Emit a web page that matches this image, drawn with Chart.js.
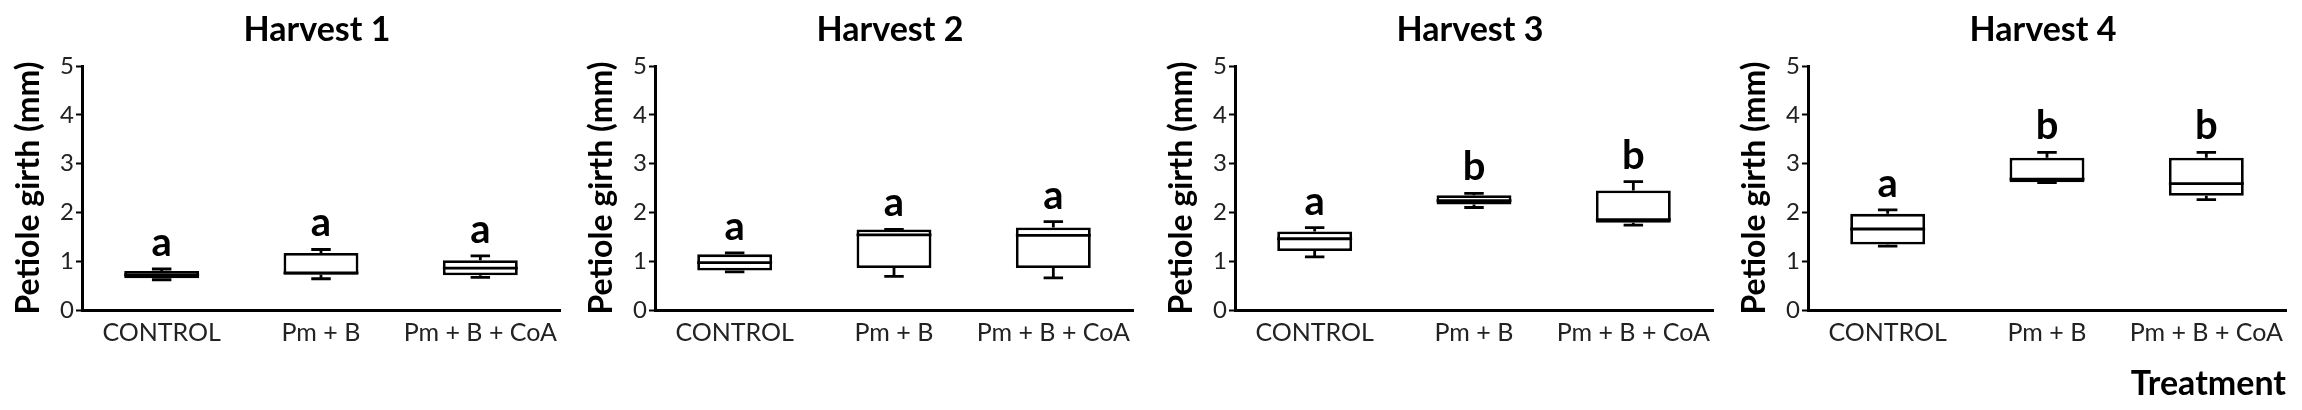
<!DOCTYPE html>
<html><head><meta charset="utf-8">
<script src="https://cdn.jsdelivr.net/npm/chart.js@4.4.1/dist/chart.umd.min.js"></script>
<style>
html,body{margin:0;padding:0;background:#fff;width:2302px;height:410px;overflow:hidden}
.p{position:absolute;top:0;width:575px;height:410px}
canvas{display:block}
</style></head><body>
<div class="p" style="left:0px"><canvas id="c0" width="575" height="410"></canvas></div>
<div class="p" style="left:573px"><canvas id="c1" width="575" height="410"></canvas></div>
<div class="p" style="left:1153px"><canvas id="c2" width="575" height="410"></canvas></div>
<div class="p" style="left:1726px"><canvas id="c3" width="575" height="410"></canvas></div>
<script>
const categories = ['CONTROL', 'Pm + B', 'Pm + B + CoA'];
const harvestTitles = ['Harvest 1', 'Harvest 2', 'Harvest 3', 'Harvest 4'];
const yTicks = [0, 1, 2, 3, 4, 5];
const yAxisTitle = 'Petiole girth (mm)';
const xAxisTitle = 'Treatment';

const h1Min = [0.62, 0.64, 0.67];
const h1Q1 = [0.65, 0.72, 0.71];
const h1Median = [0.72, 0.76, 0.86];
const h1Q3 = [0.80, 1.17, 1.02];
const h1Max = [0.84, 1.24, 1.11];
const h1Letters = ['a', 'a', 'a'];

const h2Min = [0.78, 0.69, 0.66];
const h2Q1 = [0.81, 0.86, 0.86];
const h2Median = [0.97, 1.54, 1.53];
const h2Q3 = [1.14, 1.65, 1.69];
const h2Max = [1.17, 1.65, 1.81];
const h2Letters = ['a', 'a', 'a'];

const h3Min = [1.09, 2.10, 1.74];
const h3Q1 = [1.21, 2.16, 1.79];
const h3Median = [1.46, 2.24, 1.85];
const h3Q3 = [1.61, 2.35, 2.45];
const h3Max = [1.69, 2.39, 2.63];
const h3Letters = ['a', 'b', 'b'];

const h4Min = [1.31, 2.61, 2.26];
const h4Q1 = [1.34, 2.62, 2.34];
const h4Median = [1.66, 2.68, 2.59];
const h4Q3 = [1.97, 3.12, 3.12];
const h4Max = [2.05, 3.23, 3.23];
const h4Letters = ['a', 'b', 'b'];

const harvests = [
  {min: h1Min, q1: h1Q1, median: h1Median, q3: h1Q3, max: h1Max, letters: h1Letters},
  {min: h2Min, q1: h2Q1, median: h2Median, q3: h2Q3, max: h2Max, letters: h2Letters},
  {min: h3Min, q1: h3Q1, median: h3Median, q3: h3Q3, max: h3Max, letters: h3Letters},
  {min: h4Min, q1: h4Q1, median: h4Median, q3: h4Q3, max: h4Max, letters: h4Letters}
];

const FONT = 'Lato, "Open Sans", sans-serif';

const boxExtras = {
  id: 'boxExtras',
  afterDatasetsDraw(chart, args, opts) {
    const ctx = chart.ctx;
    const y = chart.scales.y;
    const meta = chart.getDatasetMeta(0);
    ctx.save();
    ctx.strokeStyle = '#000';
    ctx.lineWidth = 2.8;
    ctx.lineCap = 'butt';
    meta.data.forEach((bar, i) => {
      const cx = bar.x, hw = bar.width / 2, cap = bar.width * 0.13;
      const yMed = y.getPixelForValue(opts.median[i]);
      const yQ1 = y.getPixelForValue(opts.q1[i]);
      const yQ3 = y.getPixelForValue(opts.q3[i]);
      const yMin = y.getPixelForValue(opts.min[i]);
      const yMax = y.getPixelForValue(opts.max[i]);
      ctx.beginPath();
      ctx.moveTo(cx - hw, yMed); ctx.lineTo(cx + hw, yMed);
      ctx.moveTo(cx, yQ3); ctx.lineTo(cx, yMax);
      ctx.moveTo(cx - cap, yMax); ctx.lineTo(cx + cap, yMax);
      ctx.moveTo(cx, yQ1); ctx.lineTo(cx, yMin);
      ctx.moveTo(cx - cap, yMin); ctx.lineTo(cx + cap, yMin);
      ctx.stroke();
      ctx.fillStyle = '#000';
      ctx.font = 'bold 40px ' + FONT;
      ctx.textAlign = 'center';
      ctx.textBaseline = 'alphabetic';
      ctx.fillText(opts.letters[i], cx, yMax - 13);
    });
    const ca = chart.chartArea;
    ctx.font = 'bold 34px ' + FONT;
    ctx.textAlign = 'center';
    ctx.textBaseline = 'middle';
    ctx.fillStyle = '#000';
    ctx.fillText(opts.title, (ca.left + ca.right) / 2 - 4, 30);
    ctx.restore();
  }
};

harvests.forEach((h, k) => {
  new Chart(document.getElementById('c' + k), {
    type: 'bar',
    data: {
      labels: categories,
      datasets: [{
        data: h.q1.map((v, i) => [v, h.q3[i]]),
        backgroundColor: '#ffffff',
        borderColor: '#000000',
        borderWidth: 2.8,
        borderSkipped: false,
        barPercentage: 0.47,
        categoryPercentage: 1
      }]
    },
    options: {
      responsive: false,
      maintainAspectRatio: false,
      animation: false,
      devicePixelRatio: 1,
      layout: {padding: {top: 66, right: 15, left: 0, bottom: 0}},
      plugins: {
        legend: {display: false},
        tooltip: {enabled: false},
        boxExtras: {min: h.min, q1: h.q1, median: h.median, q3: h.q3, max: h.max, letters: h.letters, title: harvestTitles[k]}
      },
      scales: {
        x: {
          grid: {display: false, drawTicks: false},
          border: {display: true, color: '#000', width: 3},
          ticks: {color: '#222', font: {family: FONT, size: 25}, padding: 8, maxRotation: 0, autoSkip: false},
          title: {display: k === 3, text: xAxisTitle, align: 'end', color: '#000', font: {family: FONT, size: 34, weight: 'bold'}, padding: {top: 0, bottom: 6}},
          afterFit: s => { s.height = 100; }
        },
        y: {
          min: 0, max: 5,
          afterBuildTicks: s => { s.ticks = yTicks.map(v => ({value: v})); },
          grid: {drawOnChartArea: false, drawTicks: true, tickLength: 6, tickColor: '#000', tickWidth: 2},
          border: {display: true, color: '#000', width: 3},
          ticks: {color: '#222', font: {family: FONT, size: 24}, padding: 2},
          title: {display: true, text: yAxisTitle, color: '#000', font: {family: FONT, size: 32, weight: 'bold'}, padding: {top: 9, bottom: 0}},
          afterFit: s => { s.width = 82; }
        }
      }
    },
    plugins: [boxExtras]
  });
});
</script>
</body></html>
